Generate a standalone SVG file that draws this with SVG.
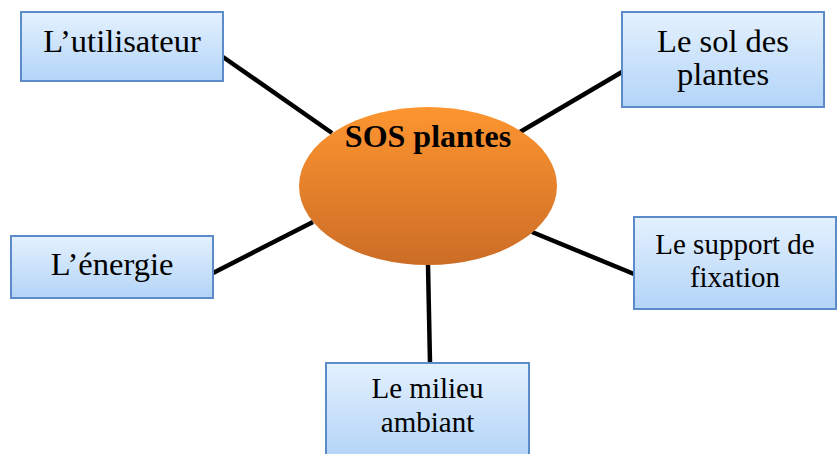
<svg xmlns="http://www.w3.org/2000/svg" width="837" height="454" viewBox="0 0 837 454">
<defs>
<linearGradient id="boxg" x1="0" y1="0" x2="0" y2="1">
<stop offset="0" stop-color="#e4f1fe"/>
<stop offset="1" stop-color="#b3d4f8"/>
</linearGradient>
<linearGradient id="ellg" x1="0" y1="0" x2="0" y2="1">
<stop offset="0" stop-color="#fd9530"/>
<stop offset="1" stop-color="#cc6d26"/>
</linearGradient>
<style>
.box{fill:url(#boxg);stroke:#5b8bc8;stroke-width:2}
.t{font-family:'Liberation Serif','Times New Roman',serif;font-size:32.5px;fill:#000;text-anchor:middle}
.sm{font-size:29px}
.b{font-weight:bold;font-size:32px}
.c{stroke:#000;stroke-width:4.5;fill:none}
</style>
</defs>
<rect width="837" height="454" fill="#fff"/>
<g id="connectors">
<line class="c" x1="223" y1="57" x2="332" y2="133"/>
<line class="c" x1="520" y1="132" x2="622" y2="72"/>
<line class="c" x1="213" y1="273" x2="313" y2="222"/>
<line class="c" x1="532" y1="232" x2="634" y2="274"/>
<line class="c" x1="428" y1="265" x2="430" y2="363"/>
</g>
<g id="center">
<ellipse cx="428" cy="186" rx="129" ry="79" fill="url(#ellg)"/>
<text class="t b" x="428" y="147">SOS plantes</text>
</g>
<g id="utilisateur">
<rect class="box" x="21" y="12" width="202" height="69"/>
<text class="t" x="122" y="52">L’utilisateur</text>
</g>
<g id="sol">
<rect class="box" x="622" y="12" width="202" height="95"/>
<text class="t" x="723" y="52">Le sol des</text>
<text class="t" x="723" y="85">plantes</text>
</g>
<g id="energie">
<rect class="box" x="11" y="236" width="202" height="62"/>
<text class="t" x="112" y="275">L’énergie</text>
</g>
<g id="support">
<rect class="box" x="634" y="217" width="202" height="92"/>
<text class="t sm" x="735" y="254">Le support de</text>
<text class="t sm" x="735" y="287">fixation</text>
</g>
<g id="milieu">
<rect class="box" x="326" y="363" width="203" height="95"/>
<text class="t sm" x="427.5" y="398">Le milieu</text>
<text class="t sm" x="427.5" y="432">ambiant</text>
</g>
</svg>
